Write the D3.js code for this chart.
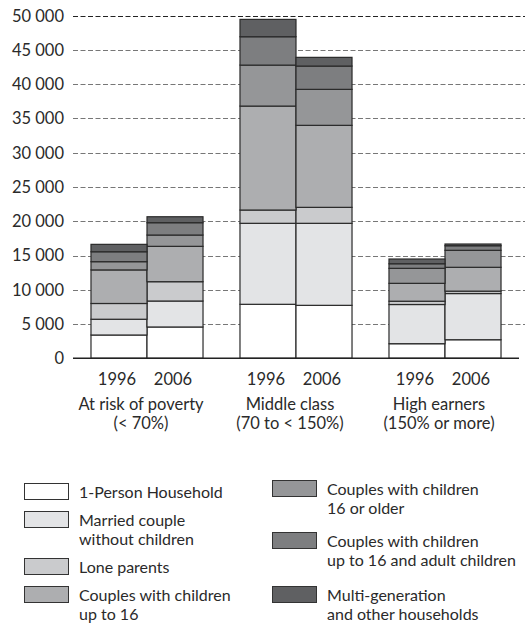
<!DOCTYPE html>
<html>
<head>
<meta charset="utf-8">
<script src="https://cdn.jsdelivr.net/npm/d3@7"></script>
<style>
  body { margin: 0; background: #fff; }
  svg { display: block; font-family: Lato, 'Open Sans', sans-serif; }
  text { fill: #2a2a2a; }
</style>
</head>
<body>
<div id="chart"></div>
<script>
'use strict';

// groups and years (bars are ordered group by group, 1996 then 2006)
var groups = ['At risk of poverty', 'Middle class', 'High earners'];
var groupSub = ['(< 70%)', '(70 to < 150%)', '(150% or more)'];
var years = ['1996', '2006'];

var categories = [
  '1-Person Household',
  'Married couple without children',
  'Lone parents',
  'Couples with children up to 16',
  'Couples with children 16 or older',
  'Couples with children up to 16 and adult children',
  'Multi-generation and other households'
];

// values, one per bar
var onePerson      = [3400, 4570, 7880, 7730, 2130, 2710];
var marriedNoKids  = [2300, 3790, 11820, 11970, 5720, 6740];
var loneParents    = [2300, 2820, 1940, 2330, 480, 350];
var kidsUpTo16     = [4900, 5160, 15170, 11970, 2610, 3480];
var kids16Older    = [1200, 1650, 5980, 5250, 2190, 2480];
var kidsBoth       = [1450, 1800, 4140, 3400, 670, 670];
var multiGen       = [1080, 870, 2530, 1270, 690, 250];

var yTicks = [0, 5000, 10000, 15000, 20000, 25000, 30000, 35000, 40000, 45000, 50000];

var legendLines = [
  ['1-Person Household'],
  ['Married couple', 'without children'],
  ['Lone parents'],
  ['Couples with children', 'up to 16'],
  ['Couples with children', '16 or older'],
  ['Couples with children', 'up to 16 and adult children'],
  ['Multi-generation', 'and other households']
];

(function () {
  var width = 531,
      height = 627;

  var colors = ['#ffffff', '#e3e4e6', '#cacbcd', '#adaeb0', '#959698', '#7d7e80', '#5f6062'];
  var color = d3.scaleOrdinal().domain(categories).range(colors);

  var series = [onePerson, marriedNoKids, loneParents, kidsUpTo16, kids16Older, kidsBoth, multiGen];

  // one row per bar
  var rows = [];
  groups.forEach(function (g, gi) {
    years.forEach(function (yr, yi) {
      var row = { group: g, year: yr };
      categories.forEach(function (c, ci) {
        row[c] = series[ci][gi * years.length + yi];
      });
      rows.push(row);
    });
  });

  var svg = d3.select('#chart').append('svg')
      .attr('width', width)
      .attr('height', height);

  var y = d3.scaleLinear()
      .domain([0, 50000])
      .range([358.3, 15.7]);

  var x0 = d3.scaleBand()
      .domain(groups)
      .range([72.5, 519.5]);

  var x1 = d3.scaleBand()
      .domain(years)
      .range([0, x0.bandwidth()])
      .paddingOuter(0.33);

  var fmt = function (d) { return d3.format(',')(d).replace(',', ' '); };

  // grid
  svg.append('g')
    .selectAll('line')
    .data(yTicks.filter(function (d) { return d > 0; }))
    .enter().append('line')
      .attr('x1', 73)
      .attr('x2', 525)
      .attr('y1', function (d) { return Math.round(y(d)) + 0.5; })
      .attr('y2', function (d) { return Math.round(y(d)) + 0.5; })
      .attr('stroke', function (d) { return d === 50000 ? '#222' : '#777'; })
      .attr('stroke-width', 1)
      .attr('stroke-dasharray', '5,2.5');

  // y labels
  svg.append('g')
    .selectAll('text')
    .data(yTicks)
    .enter().append('text')
      .attr('x', 64)
      .attr('y', function (d) { return y(d); })
      .attr('dy', '0.36em')
      .attr('text-anchor', 'end')
      .style('font-size', '16.5px')
      .text(fmt);

  // bars
  var stack = d3.stack().keys(categories);
  var layers = stack(rows);

  var layer = svg.append('g')
    .selectAll('g')
    .data(layers)
    .enter().append('g')
      .attr('fill', function (d) { return color(d.key); });

  layer.selectAll('rect')
    .data(function (d) { return d; })
    .enter().append('rect')
      .attr('x', function (d) { return x0(d.data.group) + x1(d.data.year); })
      .attr('width', x1.bandwidth())
      .attr('y', function (d) { return y(d[1]); })
      .attr('height', function (d) { return y(d[0]) - y(d[1]); })
      .attr('stroke', '#2a2a2a')
      .attr('stroke-width', 1.2);

  // baseline
  svg.append('line')
    .attr('x1', 73)
    .attr('x2', 519)
    .attr('y1', y(0))
    .attr('y2', y(0))
    .attr('stroke', '#222')
    .attr('stroke-width', 1.5);

  // year labels
  svg.append('g')
    .selectAll('text')
    .data(rows)
    .enter().append('text')
      .attr('x', function (d) { return x0(d.group) + x1(d.year) + x1.bandwidth() / 2 - 2; })
      .attr('y', 385)
      .attr('text-anchor', 'middle')
      .style('font-size', '16.5px')
      .text(function (d) { return d.year; });

  // group labels
  var gl = svg.append('g')
    .selectAll('text')
    .data(groups)
    .enter().append('text')
      .attr('x', function (d) { return x0(d) + x0.bandwidth() / 2 - 6; })
      .attr('y', 410)
      .attr('text-anchor', 'middle')
      .style('font-size', '16.5px');

  gl.append('tspan').text(function (d) { return d; });
  gl.append('tspan')
      .attr('x', function (d) { return x0(d) + x0.bandwidth() / 2 - 6; })
      .attr('dy', 19)
      .text(function (d, i) { return groupSub[i]; });

  // legend
  var legendTop = [483, 511, 558, 586, 480, 532, 586];
  var legendLeft = [24, 24, 24, 24, 272, 272, 272];

  var item = svg.append('g')
    .selectAll('g')
    .data(categories)
    .enter().append('g')
      .attr('transform', function (d, i) { return 'translate(' + legendLeft[i] + ',' + legendTop[i] + ')'; });

  item.append('rect')
      .attr('x', 0.5)
      .attr('y', 0.5)
      .attr('width', 44)
      .attr('height', 16)
      .attr('fill', function (d) { return color(d); })
      .attr('stroke', '#333')
      .attr('stroke-width', 1);

  item.append('text')
      .attr('x', 55)
      .attr('y', 15)
      .style('font-size', '16px')
    .selectAll('tspan')
    .data(function (d, i) { return legendLines[i]; })
    .enter().append('tspan')
      .attr('x', 55)
      .attr('dy', function (d, i) { return i === 0 ? 0 : 19; })
      .text(function (d) { return d; });
})();
</script>
</body>
</html>
